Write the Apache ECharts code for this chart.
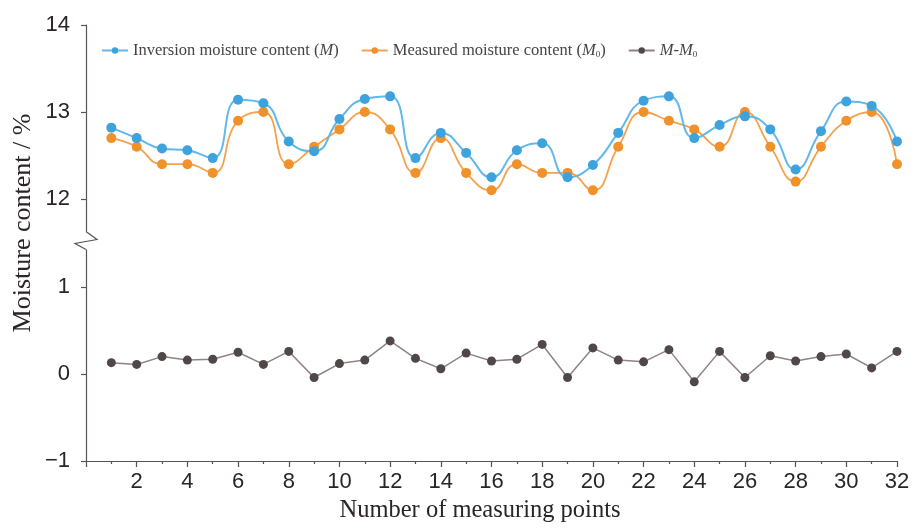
<!DOCTYPE html>
<html>
<head>
<meta charset="utf-8">
<script src="https://cdn.jsdelivr.net/npm/echarts@6/dist/echarts.min.js"></script>
<style>
  html, body { margin: 0; padding: 0; background: #fff; }
  #chart { width: 914px; height: 528px; }
</style>
</head>
<body>
<div id="chart"></div>
<script>
// Measuring point numbers
const points = [1, 2, 3, 4, 5, 6, 7, 8, 9, 10, 11, 12, 13, 14, 15, 16,
                17, 18, 19, 20, 21, 22, 23, 24, 25, 26, 27, 28, 29, 30, 31, 32];

// Inversion moisture content M (%)
const inversion = [12.82, 12.70, 12.58, 12.56, 12.47, 13.14, 13.10, 12.66,
                   12.55, 12.92, 13.15, 13.18, 12.47, 12.76, 12.53, 12.25,
                   12.56, 12.64, 12.25, 12.39, 12.76, 13.13, 13.18, 12.70,
                   12.85, 12.95, 12.80, 12.34, 12.78, 13.12, 13.07, 12.66];

// Measured moisture content M0 (%)
const measured = [12.7, 12.6, 12.4, 12.4, 12.3, 12.9, 13.0, 12.4,
                  12.6, 12.8, 13.0, 12.8, 12.3, 12.7, 12.3, 12.1,
                  12.4, 12.3, 12.3, 12.1, 12.6, 13.0, 12.9, 12.8,
                  12.6, 13.0, 12.6, 12.2, 12.6, 12.9, 13.0, 12.4];

// Difference M - M0 (%)
const difference = [0.13, 0.11, 0.20, 0.16, 0.17, 0.25, 0.11, 0.26,
                    -0.04, 0.12, 0.16, 0.38, 0.18, 0.06, 0.24, 0.15,
                    0.17, 0.34, -0.04, 0.30, 0.16, 0.14, 0.28, -0.09,
                    0.26, -0.04, 0.21, 0.15, 0.20, 0.23, 0.07, 0.26];

// Tick labels on the two segments of the broken moisture axis
const upperTicks = [12, 13, 14];
const lowerTicks = [-1, 0, 1];

const names = {
  inv: 'Inversion moisture content (M)',
  mea: 'Measured moisture content (M0)',
  dif: 'M-M0'
};

const pairs = vals => points.map((p, i) => [p, vals[i]]);

const AXIS = '#5b5252';
const SANS = 'Liberation Sans, Arial, sans-serif';
const SERIF = 'Liberation Serif, Times New Roman, serif';

const chart = echarts.init(document.getElementById('chart'), null, { renderer: 'canvas' });

const yCommon = {
  type: 'value',
  axisLine: { show: true, onZero: false, lineStyle: { color: AXIS, width: 1.2 } },
  axisTick: { show: true, length: 5, lineStyle: { color: AXIS, width: 1.2 } },
  axisLabel: { fontFamily: SANS, fontSize: 22, color: '#2b2525', margin: 16 },
  splitLine: { show: false }
};

const option = {
  backgroundColor: '#fff',
  animation: false,
  grid: [
    { left: 86, right: 17, top: 25, height: 217.5 },
    { left: 86, right: 17, top: 243.5, height: 217.5 }
  ],
  xAxis: [
    { type: 'value', gridIndex: 0, min: 0, max: 32, show: false },
    {
      type: 'value', gridIndex: 1, min: 0, max: 32, interval: 2,
      axisLine: { show: true, onZero: false, lineStyle: { color: AXIS, width: 1.2 } },
      axisTick: { show: true, length: 6, lineStyle: { color: AXIS, width: 1.2 } },
      minorTick: { show: true, splitNumber: 2, length: 3, lineStyle: { color: AXIS, width: 1.2 } },
      axisLabel: {
        fontFamily: SANS, fontSize: 22, color: '#2b2525', margin: 10,
        formatter: v => (v === 0 ? '' : String(v))
      },
      splitLine: { show: false }
    }
  ],
  yAxis: [
    Object.assign({}, yCommon, {
      gridIndex: 0, min: 11.5, max: 14,
      axisTick: Object.assign({}, yCommon.axisTick, { customValues: upperTicks }),
      axisLabel: Object.assign({}, yCommon.axisLabel, { customValues: upperTicks })
    }),
    Object.assign({}, yCommon, {
      gridIndex: 1, min: -1, max: 1.5,
      axisTick: Object.assign({}, yCommon.axisTick, { customValues: lowerTicks }),
      axisLabel: Object.assign({}, yCommon.axisLabel, {
        customValues: lowerTicks,
        formatter: v => (v < 0 ? '\u2212' + Math.abs(v) : String(v))
      })
    })
  ],
  legend: {
    left: 96, top: 37,
    itemWidth: 26, itemHeight: 8, itemGap: 22,
    data: [names.inv, names.mea, names.dif],
    textStyle: {
      fontFamily: SERIF, fontSize: 16.5, color: '#4a4242',
      rich: {
        n: { fontFamily: SERIF, fontSize: 16.5, color: '#4a4242' },
        i: { fontFamily: SERIF, fontSize: 16.5, fontStyle: 'italic', color: '#4a4242' },
        s: { fontFamily: SERIF, fontSize: 9, color: '#4a4242', verticalAlign: 'bottom', padding: [9, 0, 0, 0] }
      }
    },
    formatter: name => {
      if (name === names.inv) return '{n|Inversion moisture content (}{i|M}{n|)}';
      if (name === names.mea) return '{n|Measured moisture content (}{i|M}{s|0}{n|)}';
      return '{i|M-M}{s|0}';
    }
  },
  series: [
    {
      name: names.inv, type: 'line', xAxisIndex: 0, yAxisIndex: 0,
      data: pairs(inversion), smooth: 0.5,
      symbol: 'circle', symbolSize: 10,
      lineStyle: { color: '#62b8e8', width: 2 },
      itemStyle: { color: '#3ea2dd' },
      z: 3
    },
    {
      name: names.mea, type: 'line', xAxisIndex: 0, yAxisIndex: 0,
      data: pairs(measured), smooth: 0.5,
      symbol: 'circle', symbolSize: 10,
      lineStyle: { color: '#f4a24d', width: 1.8 },
      itemStyle: { color: '#f0912a' },
      z: 2
    },
    {
      name: names.dif, type: 'line', xAxisIndex: 1, yAxisIndex: 1,
      data: pairs(difference),
      symbol: 'circle', symbolSize: 9,
      lineStyle: { color: '#8e8484', width: 1.5 },
      itemStyle: { color: '#4f4748' }
    }
  ]
};

chart.setOption(option);

// Axis break marker and the two axis titles
const bx = chart.convertToPixel({ xAxisIndex: 1 }, 0);
const by = chart.convertToPixel({ yAxisIndex: 0 }, 11.5) - 2;
chart.setOption({
  graphic: [
    {
      type: 'rect', z: 100,
      shape: { x: bx - 4, y: by - 9, width: 8, height: 18 },
      style: { fill: '#fff' }
    },
    {
      type: 'polyline', z: 101,
      shape: { points: [[bx, by - 9], [bx + 11, by - 1], [bx - 11, by + 3], [bx, by + 9]] },
      style: { stroke: AXIS, lineWidth: 1.2, fill: null }
    },
    {
      type: 'text', z: 101,
      x: 23, y: 223, rotation: Math.PI / 2,
      style: {
        text: 'Moisture content / %',
        fontFamily: SERIF, fontSize: 26, fill: '#2b2525',
        align: 'center', verticalAlign: 'middle'
      }
    },
    {
      type: 'text', z: 101,
      x: 480, y: 511,
      style: {
        text: 'Number of measuring points',
        fontFamily: SERIF, fontSize: 24.5, fill: '#2b2525',
        align: 'center', verticalAlign: 'middle'
      }
    }
  ]
});
</script>
</body>
</html>
